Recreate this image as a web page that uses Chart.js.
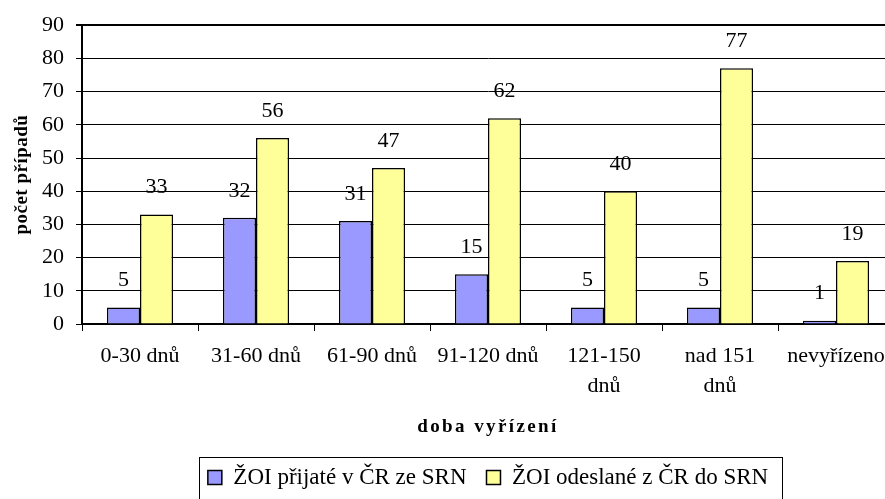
<!DOCTYPE html>
<html>
<head>
<meta charset="utf-8">
<script src="https://cdn.jsdelivr.net/npm/chart.js@4.4.1/dist/chart.umd.min.js"></script>
<style>
    html, body { margin: 0; padding: 0; background: #fff; overflow: hidden; }
    #obal { width: 885px; height: 499px; overflow: hidden; position: relative; }
    #graf { position: absolute; left: 0; top: 0; }
</style>
</head>
<body>
<div id="obal">
    <canvas id="graf" width="900" height="499"></canvas>
</div>
<script>
// kategorie = doba vyrizeni
const kategorie = ["0-30 dnů", "31-60 dnů", "61-90 dnů", "91-120 dnů", ["121-150", "dnů"], ["nad 151", "dnů"], "nevyřízeno"];
const prijate = [5, 32, 31, 15, 5, 5, 1];
const odeslane = [33, 56, 47, 62, 40, 77, 19];
const osaY = [0, 10, 20, 30, 40, 50, 60, 70, 80, 90];
const nazevX = "doba vyřízení";
const nazevY = "počet případů";

const pismo = "'Liberation Serif', 'Times New Roman', serif";

// popisky hodnot nad sloupci
const popiskyPlugin = {
    id: "popisky",
    afterDatasetsDraw(chart) {
        const ctx = chart.ctx;
        ctx.save();
        ctx.font = "22px " + pismo;
        ctx.fillStyle = "#000";
        ctx.textAlign = "center";
        ctx.textBaseline = "middle";
        chart.data.datasets.forEach((ds, i) => {
            const meta = chart.getDatasetMeta(i);
            meta.data.forEach((bar, j) => {
                ctx.fillText(ds.data[j], bar.x, bar.y - 27);
            });
        });
        ctx.restore();
    }
};

// nazvy os (s prostrkanim pismen)
const nazvyPlugin = {
    id: "nazvy",
    afterDraw(chart) {
        const ctx = chart.ctx;
        const a = chart.chartArea;
        ctx.save();
        ctx.fillStyle = "#000";
        ctx.textAlign = "center";
        ctx.textBaseline = "middle";
        ctx.font = "bold 19px " + pismo;
        ctx.letterSpacing = "2.4px";
        ctx.fillText(nazevX, (a.left + a.right) / 2, 427);
        ctx.letterSpacing = "0.5px";
        ctx.translate(22, (a.top + a.bottom) / 2);
        ctx.rotate(-Math.PI / 2);
        ctx.fillText(nazevY, 0, 0);
        ctx.restore();
    }
};

// ramecek kolem legendy
const ramecekPlugin = {
    id: "ramecek",
    afterDraw(chart) {
        const boxy = chart.legend.legendHitBoxes;
        if (!boxy || !boxy.length) return;
        let l = Infinity, r = -Infinity, t = Infinity, b = -Infinity;
        for (const h of boxy) {
            l = Math.min(l, h.left);
            r = Math.max(r, h.left + h.width);
            t = Math.min(t, h.top);
            b = Math.max(b, h.top + h.height);
        }
        const ctx = chart.ctx;
        ctx.save();
        ctx.strokeStyle = "#000";
        ctx.lineWidth = 1;
        ctx.strokeRect(Math.round(l - 9) + 0.5, Math.round(t - 9) + 0.5, Math.round(r - l + 23), Math.round(b - t + 40));
        ctx.restore();
    }
};

const data = {
    labels: kategorie,
    datasets: [
        {
            label: "ŽOI přijaté v ČR ze SRN",
            data: prijate,
            backgroundColor: "#9999ff",
            borderColor: "#000",
            borderWidth: 1.5,
            barPercentage: 1,
            categoryPercentage: 0.57
        },
        {
            label: "ŽOI odeslané z ČR do SRN",
            data: odeslane,
            backgroundColor: "#ffff99",
            borderColor: "#000",
            borderWidth: 1.5,
            barPercentage: 1,
            categoryPercentage: 0.57
        }
    ]
};

const config = {
    type: "bar",
    data: data,
    options: {
        responsive: false,
        animation: false,
        layout: { padding: { top: 25, right: 6, left: 0, bottom: 0 } },
        plugins: {
            tooltip: { enabled: false },
            legend: {
                position: "bottom",
                fullSize: false,
                labels: {
                    font: { family: pismo, size: 23 },
                    color: "#000",
                    boxWidth: 14,
                    boxHeight: 14,
                    padding: 20,
                    generateLabels(chart) {
                        return chart.data.datasets.map((ds, i) => ({
                            text: ds.label,
                            fillStyle: ds.backgroundColor,
                            strokeStyle: "#000",
                            lineWidth: 1.5,
                            datasetIndex: i
                        }));
                    }
                }
            }
        },
        scales: {
            x: {
                grid: { display: true, offset: true, drawOnChartArea: false, color: "#000", tickLength: 7 },
                border: { color: "#000", width: 2 },
                ticks: { color: "#000", font: { family: pismo, size: 22, lineHeight: 1.33 }, maxRotation: 0, autoSkip: false, padding: 11 },
                afterFit(scale) { scale.height = 122; }
            },
            y: {
                min: 0,
                max: 90,
                afterBuildTicks(scale) { scale.ticks = osaY.map(v => ({ value: v })); },
                grid: {
                    color: "#000",
                    lineWidth: c => (c.tick && c.tick.value === 90 ? 2 : 1),
                    tickLength: 6
                },
                border: { color: "#000", width: 2 },
                ticks: { color: "#000", font: { family: pismo, size: 22 }, padding: 12 },
                afterFit(scale) { scale.width = 82; }
            }
        }
    },
    plugins: [popiskyPlugin, nazvyPlugin, ramecekPlugin]
};

new Chart(document.getElementById("graf"), config);
</script>
</body>
</html>
